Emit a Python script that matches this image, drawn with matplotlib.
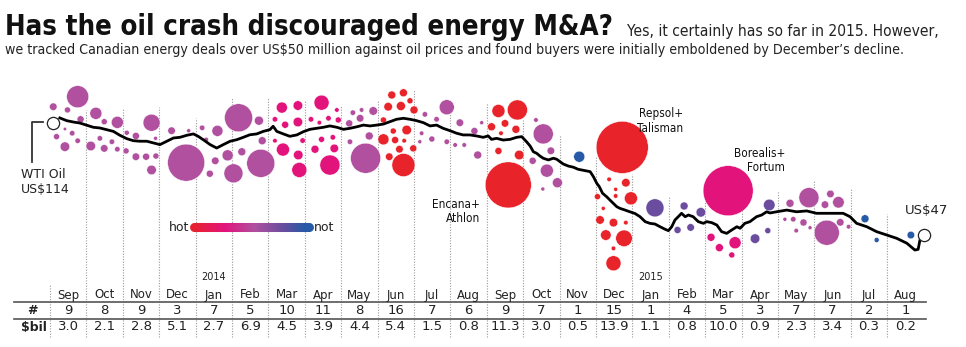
import numpy as np
import matplotlib
matplotlib.use("Agg")
import matplotlib.pyplot as plt
import matplotlib.transforms as mtransforms
from matplotlib import font_manager
from matplotlib.font_manager import FontProperties
from matplotlib.colors import LinearSegmentedColormap
from matplotlib.collections import LineCollection

# ---- data ----
months = ["Sep", "Oct", "Nov", "Dec", "Jan", "Feb", "Mar", "Apr", "May", "Jun", "Jul", "Aug",
          "Sep", "Oct", "Nov", "Dec", "Jan", "Feb", "Mar", "Apr", "May", "Jun", "Jul", "Aug"]
deal_count = [9, 8, 9, 3, 7, 5, 10, 11, 8, 16, 7, 6, 9, 7, 1, 15, 1, 4, 5, 3, 7, 7, 2, 1]
deal_total = [3.0, 2.1, 2.8, 5.1, 2.7, 6.9, 4.5, 3.9, 4.4, 5.4, 1.5, 0.8,
              11.3, 3.0, 0.5, 13.9, 1.1, 0.8, 10.0, 0.9, 2.3, 3.4, 0.3, 0.2]
# 0 = hot, 1 = not
heat = [0.55, 0.55, 0.55, 0.55, 0.55, 0.55, 0.3, 0.3, 0.55, 0.0, 0.55, 0.55,
        0.0, 0.55, 1.0, 0.0, 0.8, 0.8, 0.3, 0.8, 0.55, 0.55, 1.0, 1.0]

# WTI oil, x = months since start of Sep 2013, y = US$
oil_t = [0.27, 0.46, 0.64, 0.82, 1.01, 1.19, 1.37, 1.56, 1.74, 1.92, 2.11, 2.29, 2.47, 2.66,
         2.84, 3.02, 3.21, 3.39, 3.57, 3.76, 3.94, 4.07, 4.21, 4.40, 4.58, 4.76, 4.95, 5.13,
         5.31, 5.49, 5.68, 5.86, 6.04, 6.13, 6.23, 6.41, 6.59, 6.78, 6.96, 7.14, 7.33, 7.51,
         7.69, 7.88, 8.06, 8.24, 8.43, 8.61, 8.79, 8.98, 9.16, 9.34, 9.52, 9.71, 9.89, 10.07,
         10.26, 10.44, 10.62, 10.80, 10.99, 11.17, 11.35, 11.54, 11.72, 11.90, 12.04, 12.13,
         12.27, 12.45, 12.64, 12.82, 12.96, 13.10, 13.19, 13.28, 13.37, 13.46, 13.55, 13.69,
         13.83, 13.92, 14.01, 14.10, 14.24, 14.38, 14.51, 14.70, 14.84, 14.93, 15.02, 15.09,
         15.18, 15.29, 15.43, 15.57, 15.66, 15.80, 15.93, 16.07, 16.21, 16.35, 16.48, 16.62,
         16.76, 16.90, 16.99, 17.08, 17.17, 17.26, 17.35, 17.45, 17.54, 17.67, 17.81, 17.95,
         18.04, 18.18, 18.32, 18.45, 18.59, 18.73, 18.87, 18.96, 19.09, 19.23, 19.41, 19.55,
         19.69, 19.78, 19.96, 20.24, 20.51, 20.79, 21.06, 21.43, 21.79, 21.98, 22.16, 22.44,
         22.71, 22.99, 23.26, 23.54, 23.76, 23.85, 23.90, 23.95, 24.02]
oil_usd = [115.8, 114.2, 113.4, 112.8, 111.5, 110.3, 109.9, 108.9, 107.9, 105.6, 103.6, 102.4,
           102.1, 102.1, 101.1, 100.1, 102.1, 104.0, 104.4, 105.6, 106.4, 105.0, 103.0, 100.1,
           98.1, 100.1, 102.1, 103.0, 104.4, 105.9, 106.4, 107.9, 108.9, 110.9, 107.9, 106.4,
           105.0, 105.8, 107.7, 109.1, 109.7, 110.3, 111.1, 110.3, 109.1, 109.7, 110.6, 111.6,
           111.1, 111.6, 112.2, 113.6, 115.0, 115.6, 115.0, 114.2, 113.0, 111.1, 111.6, 109.7,
           108.3, 106.8, 105.8, 105.8, 105.2, 104.4, 105.2, 103.2, 103.8, 102.8, 103.2, 104.4,
           104.8, 101.6, 99.3, 95.9, 95.0, 93.4, 92.1, 91.1, 92.1, 91.5, 90.1, 88.7, 87.5, 86.8,
           85.6, 84.8, 84.2, 81.2, 77.4, 75.4, 71.5, 69.5, 66.5, 63.6, 62.6, 61.6, 60.6, 59.6,
           57.7, 54.8, 53.8, 53.4, 51.8, 50.3, 49.5, 51.8, 55.8, 57.7, 59.7, 57.7, 58.7, 57.7,
           54.8, 53.8, 54.8, 54.2, 52.8, 48.9, 47.9, 49.9, 51.8, 50.9, 53.8, 54.8, 57.7, 58.7,
           60.6, 59.9, 60.6, 61.6, 60.6, 61.1, 59.7, 59.7, 59.7, 57.7, 53.8, 51.8, 48.9, 46.9,
           45.0, 42.1, 38.1, 38.5, 44.0, 45.8, 47.0]

# deals: month column, where the bubble sits, and deal value (US$ bil)
deal_month = ([0] * 9 + [1] * 8 + [2] * 9 + [3] * 3 + [4] * 7 + [5] * 5 + [6] * 10 + [7] * 11
              + [8] * 8 + [9] * 16 + [10] * 7 + [11] * 6 + [12] * 9 + [13] * 7 + [14] + [15] * 15
              + [16] + [17] * 4 + [18] * 5 + [19] * 3 + [20] * 7 + [21] * 6 + [22] * 2 + [23])
deal_x = [0.76, 0.09, 0.48, 0.84, 0.41, 0.61, 0.18, 0.76, 0.41,
          1.26, 1.49, 1.85, 1.12, 1.37, 1.49, 1.70, 1.85,
          2.79, 2.11, 2.36, 2.90, 2.09, 2.36, 2.64, 2.91, 2.79,
          3.74, 3.34, 3.81,
          4.18, 4.60, 4.29, 4.54, 4.88, 4.39, 5.04,
          5.18, 5.74, 5.83, 5.27, 5.79,
          6.37, 6.81, 6.18, 6.46, 6.81, 6.18, 6.94, 6.40, 6.82, 6.85,
          7.46, 7.17, 7.40, 7.65, 7.88, 7.92, 7.46, 7.77, 7.28, 7.81, 7.69,
          8.32, 8.56, 8.88, 8.22, 8.52, 8.24, 8.77, 8.67,
          9.39, 9.71, 9.29, 9.64, 9.89, 10.00, 9.16, 9.43, 9.80, 9.16, 9.48, 9.73, 9.60, 9.98,
          9.32, 9.71,
          10.90, 10.30, 10.62, 10.21, 10.49, 10.90, 10.16,
          11.26, 11.13, 11.38, 11.66, 11.86, 11.75,
          12.32, 12.84, 12.13, 12.50, 12.80, 12.39, 12.32, 12.89, 12.59,
          13.35, 13.55, 13.76, 13.26, 13.65, 13.94, 13.54,
          14.54,
          15.72, 15.36, 15.82, 15.54, 15.54, 15.04, 15.96, 15.20, 15.11, 15.48, 15.82, 15.27,
          15.77, 15.48, 15.48,
          16.62,
          17.42, 17.24, 17.60, 17.88,
          18.63, 18.16, 18.39, 18.82, 18.73,
          19.76, 19.37, 19.72,
          20.33, 20.85, 20.19, 20.42, 20.70, 20.50, 20.88,
          21.44, 21.29, 21.66, 21.71, 21.94, 21.34,
          22.39, 22.71,
          23.65]
deal_y = [128.3, 122.4, 120.5, 115.0, 109.3, 106.8, 104.8, 102.4, 98.9,
          118.5, 113.6, 113.2, 99.3, 103.8, 97.9, 101.8, 97.4,
          113.0, 107.1, 105.2, 103.8, 96.4, 93.0, 93.0, 93.4, 85.2,
          89.5, 108.3, 108.3,
          110.0, 108.2, 103.1, 90.6, 93.8, 83.0, 83.2,
          115.9, 114.2, 102.4, 95.9, 89.1,
          121.9, 123.1, 115.0, 111.8, 113.4, 102.4, 102.5, 97.2, 94.0, 85.2,
          124.8, 115.0, 113.0, 115.6, 120.5, 114.6, 103.2, 104.4, 97.4, 97.9, 88.1,
          118.9, 120.5, 119.9, 112.6, 115.6, 101.8, 105.2, 92.1,
          129.3, 130.6, 122.4, 122.8, 125.9, 120.5, 114.6, 108.1, 108.7, 103.2, 102.8, 102.4,
          97.4, 97.9, 93.0, 88.1,
          122.1, 117.9, 115.0, 106.8, 103.4, 101.8, 101.8,
          113.0, 99.9, 99.9, 108.1, 113.0, 94.0,
          119.9, 120.5, 110.6, 112.6, 109.1, 106.8, 96.4, 94.0, 76.4,
          114.6, 106.4, 96.5, 90.6, 84.8, 77.7, 74.0,
          93.0,
          98.5, 79.7, 77.7, 73.8, 69.9, 69.5, 68.5, 62.6, 55.8, 54.2, 54.2, 46.9, 45.0, 39.1, 30.3,
          62.9,
          64.0, 49.9, 51.4, 60.3,
          73.0, 45.6, 39.5, 42.4, 35.2,
          64.6, 44.8, 49.5,
          65.6, 68.9, 56.2, 56.2, 54.3, 49.5, 51.2,
          71.1, 64.8, 66.2, 54.4, 51.8, 48.3,
          56.5, 44.0,
          46.9]
deal_bil = [2.15, 0.25, 0.16, 0.22, 0.05, 0.13, 0.16, 0.13, 0.40,
            0.64, 0.16, 0.64, 0.40, 0.13, 0.25, 0.13, 0.13,
            1.28, 0.11, 0.22, 0.07, 0.16, 0.25, 0.22, 0.16, 0.40,
            6.08, 0.25, 0.07,
            0.13, 0.54, 0.09, 0.25, 0.54, 0.22, 1.60,
            3.48, 0.36, 0.28, 0.28, 3.48,
            0.54, 0.40, 0.13, 0.22, 0.40, 0.09, 0.13, 0.75, 0.40, 1.00,
            1.00, 0.13, 0.09, 0.13, 0.09, 0.16, 0.16, 0.13, 0.28, 0.32, 1.78,
            0.13, 0.09, 0.32, 0.22, 0.25, 0.13, 0.28, 4.00,
            0.28, 0.28, 0.32, 0.36, 0.16, 0.28, 0.16, 0.16, 0.40, 0.54, 0.22, 0.09, 0.25, 0.22,
            0.25, 2.35,
            1.00, 0.13, 0.13, 0.09, 0.16, 0.13, 0.07,
            0.25, 0.09, 0.09, 0.22, 0.07, 0.28,
            0.75, 1.78, 0.28, 0.25, 0.28, 0.09, 0.22, 0.40, 9.40,
            0.09, 1.78, 0.25, 0.22, 0.75, 0.44, 0.07,
            0.54,
            12.02, 0.09, 0.32, 0.07, 0.09, 0.16, 0.75, 0.07, 0.32, 0.32, 0.09, 0.49, 1.21, 0.09,
            1.00,
            1.44,
            0.28, 0.22, 0.25, 0.40,
            11.11, 0.28, 0.28, 0.64, 0.16,
            0.59, 0.40, 0.16,
            0.28, 1.78, 0.07, 0.13, 0.22, 0.09, 0.07,
            0.25, 0.25, 0.59, 0.25, 0.09, 2.78,
            0.28, 0.11,
            0.25]

# column divider tops (US$ level on the price scale)
divider_top = [17.5, 120.5, 121.1, 122.2, 115.8, 128.1, 128.1, 126.4, 123.4, 125.8, 132.2, 123.4,
               124.6, 114.6, 105.8, 92.8, 82.8, 69.3, 69.3, 79.3, 72.8, 79.3, 74.6, 59.3]


# ---- fonts: look for an installed condensed face, else fall back to DejaVu ----
def _weight(f):
    w = f.weight
    if isinstance(w, str):
        w = font_manager.weight_dict.get(w, 400)
    return w


def _narrow(f):
    st = f.stretch
    if isinstance(st, str):
        st = font_manager.stretch_dict.get(st, 500)
    return ("Narrow" in f.name or "Condensed" in f.name or st < 500) and f.style == "normal"


cond = [f for f in font_manager.fontManager.ttflist if _narrow(f)]
cond_reg = [f for f in cond if 350 <= _weight(f) <= 500]
cond_bold = [f for f in cond if _weight(f) >= 600]
if cond_reg and cond_bold:
    fp_reg = FontProperties(fname=cond_reg[0].fname)
    fp_bold = FontProperties(fname=cond_bold[0].fname)
else:
    fp_reg = FontProperties(family="DejaVu Sans")
    fp_bold = FontProperties(family="DejaVu Sans", weight="bold")
wide = "DejaVu Sans"

heat_cmap = LinearSegmentedColormap.from_list(
    "hotnot", [(0.0, "#e8232a"), (0.3, "#e2147d"), (0.55, "#b1509f"),
               (0.8, "#6a4d9e"), (1.0, "#2659a6")])

W, H = 966, 347
fig = plt.figure(figsize=(W / 100, H / 100), dpi=100)
ax = fig.add_axes([0, 0, 1, 1])
ax.set_xlim(-50 / 36.4, (W - 50) / 36.4)
ax.set_ylim(114 - (H - 121) / 1.7, 114 + 121 / 1.7)
ax.axis("off")
tbl = mtransforms.blended_transform_factory(ax.transData, ax.transAxes)
renderer = fig.canvas.get_renderer()


def yf(py):
    return 1 - py / H


def fit_text(xpx, ypx, s, width_px, size, fp, **kw):
    # shrink/grow the headline so it spans the same width as in the source
    t = fig.text(xpx / W, yf(ypx), s, fontproperties=fp.copy(), **kw)
    t.set_fontsize(size)
    w = t.get_window_extent(renderer=renderer).width
    t.set_fontsize(size * width_px / w)
    return t


# dotted column dividers
ax.vlines(np.arange(24), -13.1, divider_top, colors="#9a9a9a", lw=0.8,
          linestyles=(0, (1, 1.4)), zorder=1)

# bubbles
d_px = 15 * np.sqrt(np.array(deal_bil))
colors = [heat_cmap(heat[m]) for m in deal_month]
ax.scatter(deal_x, deal_y, s=(d_px * 0.72) ** 2, c=colors, edgecolors="white",
           linewidths=0.3, zorder=2)

# oil price
ax.plot(oil_t, oil_usd, color="black", lw=2.0, solid_joinstyle="round", zorder=3)
ax.plot([oil_t[0] - 0.2, oil_t[-1]], [113.0, oil_usd[-1]], "o", ms=8.8, mfc="white",
        mec="#222222", mew=0.9, zorder=4, ls="none")

# start label with bracket
ax.plot([-0.184, -0.503, -0.503], [113.6, 113.6, 90.1], color="#333333", lw=1.3, zorder=3)
ax.text(-0.80, 86.6, "WTI Oil\nUS$114", ha="left", va="top", fontsize=9, family=wide,
        color="#222222", linespacing=1.25)
ax.text(23.49, 61.1, "US$47", ha="left", va="center", fontsize=9.5, family=wide,
        color="#222222")

# deal callouts
for xr, ytop, label in [(11.81, 69.0, "Encana+\nAthlon"), (17.39, 122.0, "Repsol+\nTalisman"),
                        (20.19, 99.0, "Borealis+\nFortum")]:
    t = ax.text(xr, ytop, label, ha="right", va="top", fontproperties=fp_reg.copy(),
                color="#111111", linespacing=1.15)
    t.set_fontsize(8.5 if cond_reg else 7.5)

# hot / not legend bar
gx = np.linspace(3.95, 7.12, 80)
segs = [[(gx[i], 51.4), (gx[i + 1], 51.4)] for i in range(len(gx) - 1)]
lc = LineCollection(segs, colors=heat_cmap(np.linspace(0, 1, len(segs))), lw=6.5,
                    capstyle="round", zorder=2)
ax.add_collection(lc)
ax.text(3.83, 51.6, "hot", ha="right", va="center", fontsize=9, family=wide, color="#222222")
ax.text(7.25, 51.6, "not", ha="left", va="center", fontsize=9, family=wide, color="#222222")

# table
centers = np.arange(24) + 0.5
for i in range(24):
    ax.text(centers[i], yf(295), months[i], transform=tbl, ha="center", va="center",
            fontsize=8.5, family=wide, color="#222222")
    ax.text(centers[i], yf(311), str(deal_count[i]), transform=tbl, ha="center",
            va="center", fontsize=9.5, family=wide, color="#222222")
    ax.text(centers[i], yf(327), f"{deal_total[i]:.1f}", transform=tbl, ha="center",
            va="center", fontsize=9.5, family=wide, color="#222222")
ax.text(centers[4], yf(276.5), "2014", transform=tbl, ha="center", va="center",
        fontsize=7, family=wide, color="#222222")
ax.text(centers[16], yf(276.5), "2015", transform=tbl, ha="center", va="center",
        fontsize=7, family=wide, color="#222222")
ax.text(-0.49, yf(311), "#", transform=tbl, ha="center", va="center", fontsize=9,
        fontweight="bold", family=wide, color="#222222")
ax.text(-0.44, yf(327), "$bil", transform=tbl, ha="center", va="center", fontsize=9,
        fontweight="bold", family=wide, color="#222222")
for py in (302, 319):
    ax.plot([-0.99, 24.07], [yf(py), yf(py)], transform=tbl, color="#555555", lw=1.2)

# headline
fit_text(5, 35, "Has the oil crash discouraged energy M&A?", 610, 24, fp_bold,
         ha="left", va="baseline", color="#111111")
fit_text(627, 36, "Yes, it certainly has so far in 2015. However,", 312, 10.5, fp_reg,
         ha="left", va="baseline", color="#222222")
fit_text(5, 54, "we tracked Canadian energy deals over US$50 million against oil "
         "prices and found buyers were initially emboldened by December\u2019s decline.",
         910, 10.5, fp_reg, ha="left", va="baseline", color="#222222")

fig.savefig("out.png", dpi=100, facecolor="white")
